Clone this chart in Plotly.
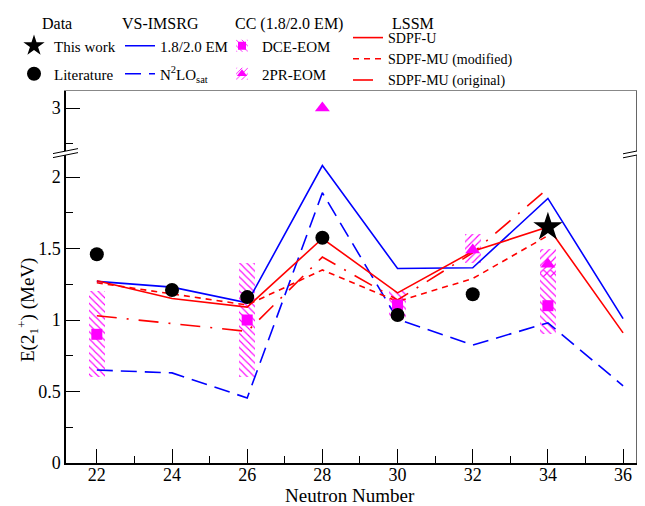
import plotly.graph_objects as go

# ---------------- data ----------------
N = [22, 24, 26, 28, 30, 32, 34, 36]
imsrg_em = [1.27, 1.23, 1.12, 2.08, 1.36, 1.365, 1.85, 1.01]
imsrg_n2lo = [0.65, 0.63, 0.455, 1.89, 1.005, 0.825, 0.98, 0.54]
sdpfu = [1.275, 1.15, 1.09, 1.57, 1.19, 1.48, 1.65, 0.91]
N_mu = [22, 24, 26, 28, 30, 32, 34]
sdpfmu_mod = [1.26, 1.18, 1.105, 1.35, 1.13, 1.29, 1.59]
sdpfmu_orig = [1.03, 0.975, 0.92, 1.44, 1.14, 1.47, 1.92]

lit_N = [22, 24, 26, 28, 30, 32]
lit_E = [1.46, 1.21, 1.16, 1.575, 1.035, 1.18]
this_N = [34]
this_E = [1.65]

dce_N = [22, 26, 30, 34]
dce_E = [0.90, 1.00, 1.105, 1.10]
dce_lo = [0.60, 0.60, 1.00, 0.90]
dce_hi = [1.20, 1.40, 1.20, 1.35]

pr_N = [28, 32, 34]
pr_E = [3.00, 1.49, 1.39]
pr_lo = [None, 1.40, 1.30]
pr_hi = [None, 1.60, 1.50]

x_ticks = [22, 24, 26, 28, 30, 32, 34, 36]

# ---------------- geometry / style ----------------
OFF = 8                       # page body margin
WIN_W, WIN_H = 645, 506
W, H = WIN_W - OFF, WIN_H - OFF
AX_L, AX_R, AX_T, AX_B = 66, 637, 91, 463
ML, MT = AX_L - OFF, AX_T - OFF
MR, MB = (W + OFF) - AX_R, (H + OFF) - AX_B
PW, PH = AX_R - AX_L, AX_B - AX_T
SCALE = 143.0                 # px per MeV
BREAK_PX = 153.0
D = (AX_B - BREAK_PX) / PH
LOW_RANGE = [0, (AX_B - BREAK_PX) / SCALE]
UP_RANGE = [3 - (BREAK_PX - 108) / SCALE, 3 + (108 - AX_T) / SCALE]
XR = [21.18, 36.37]

SERIF = "Liberation Serif"
BLUE = "#0000ff"
RED = "#ff0000"
MAG = "#ff00ff"


def px2x(px):
    return (px - AX_L) / PW


def py2y(py):
    return (AX_B - py) / PH


def diff(hi, lo):
    return [None if (h is None or l is None) else h - l for h, l in zip(hi, lo)]


fig = go.Figure()

# hatched uncertainty bands (lower panel)
fig.add_trace(go.Bar(
    x=dce_N, y=diff(dce_hi, dce_lo), base=dce_lo, width=0.43,
    marker=dict(color=MAG, line=dict(width=0),
                pattern=dict(shape="\\", size=5, solidity=0.22, fillmode="replace")),
    name="DCE-EOM", legend="legend3", legendgroup="c1", legendrank=1,
    xaxis="x", yaxis="y"))
fig.add_trace(go.Bar(
    x=pr_N, y=diff(pr_hi, pr_lo), base=pr_lo, width=0.43,
    marker=dict(color=MAG, line=dict(width=0),
                pattern=dict(shape="/", size=5, solidity=0.22, fillmode="replace")),
    name="2PR-EOM", legend="legend3", legendgroup="c2", legendrank=2,
    xaxis="x", yaxis="y"))

# VS-IMSRG
fig.add_trace(go.Scatter(x=N, y=imsrg_em, mode="lines", name="1.8/2.0 EM",
                         line=dict(color=BLUE, width=1.6), legend="legend2",
                         legendgroup="v1", legendrank=1))
fig.add_trace(go.Scatter(x=N, y=imsrg_n2lo, mode="lines", name="N<sup>2</sup>LO<sub>sat</sub>",
                         line=dict(color=BLUE, width=1.6, dash="16px,8px"),
                         legend="legend2", legendgroup="v2", legendrank=2))
# LSSM
fig.add_trace(go.Scatter(x=N, y=sdpfu, mode="lines", name="SDPF-U",
                         line=dict(color=RED, width=1.6), legend="legend4",
                         legendgroup="l1", legendrank=1))
fig.add_trace(go.Scatter(x=N_mu, y=sdpfmu_mod, mode="lines", name="SDPF-MU (modified)",
                         line=dict(color=RED, width=1.6, dash="6px,5px"),
                         legend="legend4", legendgroup="l2", legendrank=2))
fig.add_trace(go.Scatter(x=N_mu, y=sdpfmu_orig, mode="lines", name="SDPF-MU (original)",
                         line=dict(color=RED, width=1.6, dash="20px,10px,2px,10px"),
                         legend="legend4", legendgroup="l3", legendrank=3))

# CC markers (lower panel)
fig.add_trace(go.Scatter(x=dce_N, y=dce_E, mode="markers", showlegend=False,
                         marker=dict(symbol="square", size=11, color=MAG)))
fig.add_trace(go.Scatter(x=pr_N, y=pr_E, mode="markers", showlegend=False,
                         marker=dict(symbol="triangle-up", size=13, color=MAG)))

# CC markers on the upper panel (these also carry the legend symbols)
fig.add_trace(go.Scatter(x=dce_N, y=dce_E, mode="markers", name="DCE-EOM",
                         marker=dict(symbol="square", size=8, color=MAG),
                         legend="legend5", legendgroup="c1", legendrank=1,
                         xaxis="x2", yaxis="y2"))
fig.add_trace(go.Scatter(x=pr_N, y=pr_E, mode="markers", name="2PR-EOM",
                         marker=dict(symbol="triangle-up", size=9, color=MAG),
                         legend="legend5", legendgroup="c2", legendrank=2,
                         xaxis="x2", yaxis="y2"))
fig.add_trace(go.Scatter(x=pr_N, y=pr_E, mode="markers", showlegend=False,
                         marker=dict(symbol="triangle-up", size=13, color=MAG),
                         xaxis="x2", yaxis="y2"))

# experimental data
fig.add_trace(go.Scatter(x=lit_N, y=lit_E, mode="markers", name="Literature",
                         marker=dict(symbol="circle", size=14, color="black"),
                         legend="legend", legendgroup="d2", legendrank=2))
fig.add_trace(go.Scatter(x=this_N, y=this_E, mode="markers", name="This work",
                         marker=dict(symbol="star", size=22, color="black"),
                         legend="legend", legendgroup="d1", legendrank=1))

axis_font = dict(family=SERIF, size=18, color="black")
common_leg = dict(xanchor="left", yanchor="top", bgcolor="rgba(0,0,0,0)", borderwidth=0,
                  traceorder="grouped")
leg_font = dict(family=SERIF, size=15, color="black")
TOP3 = 29.5
TOP_LSSM = 22.0

fig.update_layout(
    width=W, height=H,
    margin=dict(l=ML, r=MR, t=MT, b=MB, autoexpand=False),
    paper_bgcolor="white", plot_bgcolor="white",
    barmode="overlay", bargap=0,
    font=dict(family=SERIF, color="black"),
    xaxis=dict(domain=[0, 1], anchor="y", range=XR, tickvals=x_ticks,
               ticks="inside", ticklen=14, tickwidth=1.2, tickcolor="black",
               minor=dict(dtick=1, tick0=22, ticks="inside", ticklen=7, tickwidth=1.2, tickcolor="black"),
               showline=True, linecolor="black", linewidth=1.5, mirror=False,
               showgrid=False, zeroline=False, tickfont=axis_font, ticklabelstandoff=-5),
    xaxis2=dict(domain=[0, 1], anchor="y2", matches="x", range=XR, side="top",
                showticklabels=False, ticks="", showline=True, linecolor="#888888",
                linewidth=1, showgrid=False, zeroline=False),
    yaxis=dict(domain=[0, D], anchor="x", range=LOW_RANGE, dtick=0.5, tick0=0,
               ticks="inside", ticklen=14, tickwidth=1.2, tickcolor="black",
               minor=dict(dtick=0.25, ticks="inside", ticklen=7, tickwidth=1.2, tickcolor="black"),
               showline=True, linecolor="black", linewidth=1.5, mirror=False,
               showgrid=False, zeroline=False, tickfont=axis_font),
    yaxis2=dict(domain=[D, 1], anchor="x2", range=UP_RANGE, tickvals=[3],
                ticks="inside", ticklen=14, tickwidth=1.2, tickcolor="black",
                minor=dict(tickvals=[2.75], ticks="inside", ticklen=7, tickwidth=1.2, tickcolor="black"),
                showline=True, linecolor="black", linewidth=1.5, mirror=False,
                showgrid=False, zeroline=False, tickfont=axis_font),
    legend=dict(x=px2x(14), y=py2y(TOP3), font=leg_font, tracegroupgap=5.5, **common_leg),
    legend2=dict(x=px2x(120), y=py2y(TOP3), font=leg_font, tracegroupgap=5.5, **common_leg),
    legend3=dict(x=px2x(222), y=py2y(TOP3), font=leg_font, tracegroupgap=5.5, **common_leg),
    legend5=dict(x=px2x(222), y=py2y(TOP3), font=dict(family=SERIF, size=15, color="rgba(0,0,0,0)"),
                 tracegroupgap=5.5, **common_leg),
    legend4=dict(x=px2x(348), y=py2y(TOP_LSSM), font=dict(family=SERIF, size=14, color="black"),
                 tracegroupgap=0, **common_leg),
)

# group headings
for txt, px in [("Data", 40), ("VS-IMSRG", 120), ("CC (1.8/2.0 EM)", 233), ("LSSM", 390)]:
    fig.add_annotation(text=txt, x=px2x(px), y=py2y(23.5), xref="paper", yref="paper",
                       xanchor="left", yanchor="middle", showarrow=False,
                       font=dict(family=SERIF, size=16, color="black"))

# axis titles
fig.add_annotation(text="E(2<sub>1</sub><sup>+</sup>) (MeV)", x=px2x(27), y=py2y(310),
                   xref="paper", yref="paper", xanchor="center", yanchor="middle",
                   textangle=-90, showarrow=False, font=dict(family=SERIF, size=19, color="black"))
fig.add_annotation(text="Neutron Number", x=px2x(350), y=py2y(495), borderpad=0,
                   xref="paper", yref="paper", xanchor="center", yanchor="middle",
                   showarrow=False, font=dict(family=SERIF, size=19, color="black"))

# frame: right border
shapes = [dict(type="line", xref="paper", yref="paper", x0=1, x1=1, y0=0, y1=1,
               line=dict(color="#666666", width=2), layer="above")]


# axis-break marks
def brk(cx_px, left, right):
    out = []
    cy = BREAK_PX
    s = 5.0 / 25.0

    def pt(dx, dy):
        return px2x(cx_px + dx), py2y(cy + dy)
    a1 = pt(-left, -2 + s * left); a2 = pt(right, -2 - s * right)
    b1 = pt(-left, 2 + s * left); b2 = pt(right, 2 - s * right)
    path = "M {} {} L {} {} L {} {} L {} {} Z".format(a1[0], a1[1], a2[0], a2[1],
                                                      b2[0], b2[1], b1[0], b1[1])
    out.append(dict(type="path", xref="paper", yref="paper", path=path,
                    fillcolor="white", line=dict(width=0), layer="above"))
    for p1, p2 in [(a1, a2), (b1, b2)]:
        out.append(dict(type="line", xref="paper", yref="paper", x0=p1[0], y0=p1[1],
                        x1=p2[0], y1=p2[1], line=dict(color="black", width=1), layer="above"))
    return out


shapes += brk(AX_L, 13, 12)
shapes += brk(AX_R, 14, 9)
fig.update_layout(shapes=shapes)

fig.write_html("out.html")
